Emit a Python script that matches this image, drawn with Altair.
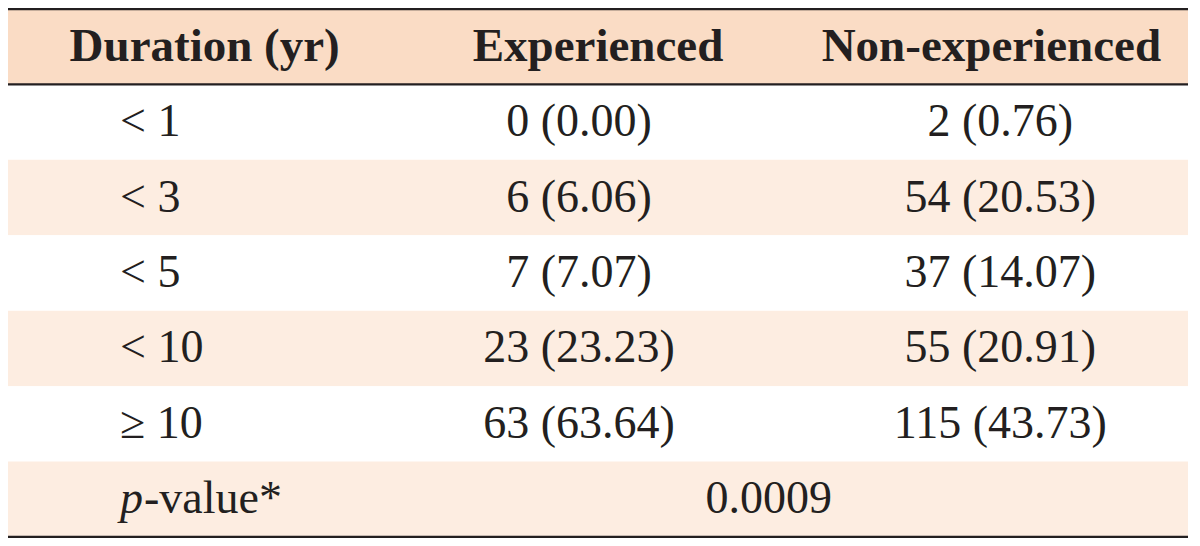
import altair as alt
import pandas as pd

# ---- table content ----
headers = ["Duration (yr)", "Experienced", "Non-experienced"]
durations = ["< 1", "< 3", "< 5", "< 10", "≥ 10"]
exp_n = [0, 6, 7, 23, 63]
exp_pct = [0.00, 6.06, 7.07, 23.23, 63.64]
non_n = [2, 54, 37, 55, 115]
non_pct = [0.76, 20.53, 14.07, 20.91, 43.73]
p_label_italic = "p"
p_label_rest = "-value*"
p_value = "0.0009"

# ---- build tables from the lists ----
cells = []
for j, h in enumerate(headers):
    cells.append({"row": 0, "col": j + 0.5, "kind": "head", "text": h})
for i, d in enumerate(durations):
    r = i + 1
    cells.append({"row": r, "col": 0.5, "kind": "dur", "text": d})
    cells.append({"row": r, "col": 1.5, "kind": "exp", "text": f"{exp_n[i]} ({exp_pct[i]:.2f})"})
    cells.append({"row": r, "col": 2.5, "kind": "non", "text": f"{non_n[i]} ({non_pct[i]:.2f})"})
last = len(durations) + 1
cells.append({"row": last, "col": 0.5, "kind": "pital", "text": p_label_italic})
cells.append({"row": last, "col": 0.5, "kind": "prest", "text": p_label_rest})
cells.append({"row": last, "col": 2.0, "kind": "pval", "text": p_value})
cells_df = pd.DataFrame(cells)

n_rows = last + 1
bands_df = pd.DataFrame({
    "row": list(range(n_rows)),
    "band": ["head"] + ["white" if r % 2 == 1 else "stripe" for r in range(1, n_rows)],
})
rules_df = pd.DataFrame({"pos": [0, 1, n_rows]})

INK = "#231f20"
FONT = "Liberation Serif"
yscale = alt.Scale(domain=[0, n_rows], range=[1, 529])
xscale = alt.Scale(domain=[0, 3], range=[0, 1180])

bands = alt.Chart(bands_df).transform_calculate(row_end="datum.row + 1").mark_rect().encode(
    x=alt.value(0),
    x2=alt.value(1180),
    y=alt.Y("row:Q", scale=yscale, axis=None),
    y2="row_end:Q",
    color=alt.Color("band:N", scale=alt.Scale(domain=["head", "white", "stripe"],
                                              range=["#fadcc5", "#ffffff", "#fdede1"]), legend=None),
)

rules = alt.Chart(rules_df).mark_rule(color=INK, strokeWidth=2.3).encode(
    x=alt.value(0),
    x2=alt.value(1180),
    y=alt.Y("pos:Q", scale=yscale, axis=None),
)

base = alt.Chart(cells_df).transform_calculate(rc="datum.row + 0.5")


def text_layer(kind, dx=0, align="center", bold=False, italic=False, size=46):
    props = dict(font=FONT, fontSize=size, color=INK, align=align, baseline="middle", dx=dx)
    if bold:
        props["fontWeight"] = "bold"
    if italic:
        props["fontStyle"] = "italic"
    return base.transform_filter(alt.datum.kind == kind).mark_text(**props).encode(
        x=alt.X("col:Q", scale=xscale, axis=None),
        y=alt.Y("rc:Q", scale=yscale, axis=None),
        text="text:N",
    )


layers = [
    bands,
    rules,
    text_layer("head", bold=True, size=47),
    text_layer("dur", dx=-84.7, align="left"),
    text_layer("exp", dx=-19),
    text_layer("non", dx=9),
    text_layer("pital", dx=-84.7, align="left", italic=True),
    text_layer("prest", dx=-60.7, align="left"),
    text_layer("pval", dx=-26),
]

chart = alt.layer(*layers).properties(
    width=1184, height=530, padding=0, autosize=alt.AutoSizeParams(type="none"),
    background="white",
).configure_view(stroke=None)

chart.save("out.html", embed_options={"renderer": "svg", "actions": False})
